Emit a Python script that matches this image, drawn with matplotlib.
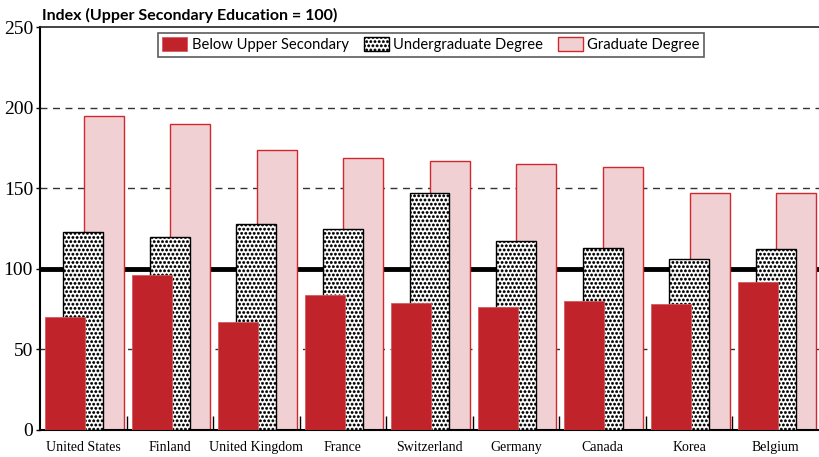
import matplotlib
matplotlib.use("Agg")
import matplotlib.hatch
import matplotlib.pyplot as plt
import numpy as np

countries = ["United States", "Finland", "United Kingdom", "France", "Switzerland",
             "Germany", "Canada", "Korea", "Belgium"]
below_upper = [70, 96, 67, 84, 79, 76, 80, 78, 92]
undergrad = [123, 120, 128, 125, 147, 117, 113, 106, 112]
graduate = [195, 190, 174, 169, 167, 165, 163, 147, 147]

# bigger filled dots for the "." hatch
matplotlib.hatch.SmallFilledCircles.size = 0.27
plt.rcParams["hatch.linewidth"] = 0.4

fig = plt.figure(figsize=(8.19, 4.57), dpi=100)
ax = fig.add_axes([40 / 819, 27 / 457, 779 / 819, 403 / 457])

x = np.arange(len(countries))
w = 0.462
red = "#c0242a"
pink = "#f0d0d2"

ax.bar(x + 0.235, graduate, w, color=pink, edgecolor="#d0282e", linewidth=1.0,
       zorder=2, label="Graduate Degree")
ax.bar(x, undergrad, w, color="white", edgecolor="black", hatch="....", linewidth=1.0,
       zorder=3, label="Undergraduate Degree")
ax.bar(x - 0.21, below_upper, w, color=red, edgecolor="#d65a5e", linewidth=0.6,
       zorder=4, label="Below Upper Secondary")

for y in (50, 150, 200):
    ax.axhline(y, color="#333333", linestyle=(0, (5, 4)), linewidth=1.0, zorder=1)
ax.axhline(100, color="black", linewidth=3.5, zorder=1)

ax.set_xlim(-0.5, len(countries) - 0.5)
ax.set_ylim(0, 250)
ax.set_yticks(range(0, 251, 50))
ax.set_xticks(x)
ax.set_xticklabels(countries)
ax.set_xticks(x[:-1] + 0.5, minor=True)
ax.tick_params(axis="x", which="major", length=0, pad=8)
ax.tick_params(axis="x", which="minor", direction="in", length=10, width=1.0)
ax.tick_params(axis="y", direction="out", length=3, width=1.0, pad=2)
for lab in ax.get_xticklabels():
    lab.set_fontfamily("Liberation Serif")
    lab.set_fontsize(10)
for lab in ax.get_yticklabels():
    lab.set_fontfamily("Liberation Serif")
    lab.set_fontsize(14)

ax.spines["right"].set_visible(False)
ax.spines["left"].set_linewidth(1.5)
ax.spines["bottom"].set_linewidth(1.5)
ax.spines["top"].set_linewidth(1.2)
ax.spines["top"].set_color("#222222")

handles, labels = ax.get_legend_handles_labels()
leg = ax.legend(handles[::-1], labels[::-1], loc="upper center", bbox_to_anchor=(0.502, 0.985),
                ncol=3, frameon=True, fancybox=False, edgecolor="#333333",
                prop={"family": "Lato", "size": 10.6}, handlelength=1.7,
                handleheight=1.0, handletextpad=0.3, columnspacing=1.0,
                borderpad=0.3, borderaxespad=0.0)
leg.get_frame().set_linewidth(1.2)

fig.text(42 / 819, 1 - 20 / 457, "Index (Upper Secondary Education = 100)",
         fontfamily="Lato", fontweight="bold", fontsize=11.5)

fig.savefig("out.png", dpi=100)
